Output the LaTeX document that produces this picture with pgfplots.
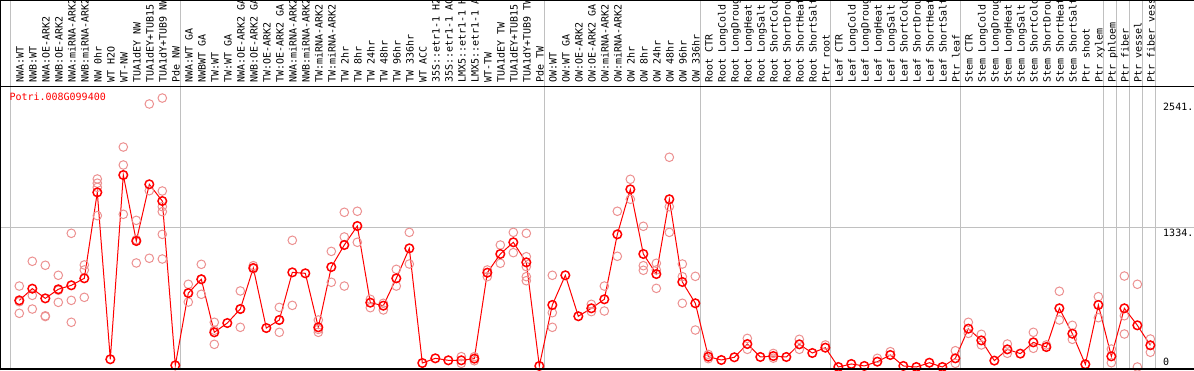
\documentclass[border=0pt]{standalone}
\usepackage{pgfplots}
\usepackage{pgfplotstable}
\pgfplotsset{compat=1.18}
\usepackage{fontspec}
\setmonofont{DejaVu Sans Mono}
\definecolor{pale}{RGB}{236,145,145}
\definecolor{sep}{RGB}{192,192,192}

\pgfplotstableread{
x y
0 638
1 750
2 657
3 744
4 782
5 849
6 1672
7 74
8 1838
9 1206
10 1749
11 1589
12 16
13 708
14 840
15 332
16 421
17 555
18 948
19 373
20 450
21 906
22 897
23 380
24 957
25 1168
26 1350
27 616
28 587
29 849
30 1136
31 38
32 83
33 64
34 64
35 80
36 903
37 1082
38 1194
39 1002
40 10
41 594
42 878
43 486
44 562
45 648
46 1270
47 1701
48 1082
49 890
50 1606
51 814
52 610
53 99
54 67
55 93
56 220
57 96
58 105
59 96
60 217
61 134
62 185
63 0
64 29
65 10
66 51
67 115
68 10
69 0
70 41
71 0
72 83
73 367
74 255
75 61
76 169
77 128
78 236
79 191
80 562
81 319
82 26
83 594
84 102
85 562
86 399
87 208
}\means

\pgfplotstableread{
x y
0 775
0 625
0 514
1 1012
1 686
1 555
2 974
2 483
2 490
3 878
3 619
3 735
4 1280
4 638
4 428
5 977
5 929
5 667
6 1800
6 1760
6 1720
6 1449
8 2106
8 1934
8 1462
9 1404
9 996
9 1218
10 2518
10 1688
10 1041
11 2575
11 1685
11 1535
11 1487
11 1270
11 1034
13 792
13 622
13 710
14 983
14 696
14 841
15 428
15 217
15 351
17 728
17 380
17 557
18 970
18 940
20 571
20 332
20 450
21 1213
21 590
23 450
23 332
23 360
24 1107
24 811
25 1481
25 1245
25 775
26 1491
26 1194
27 648
27 568
28 610
28 546
29 935
29 775
30 1289
30 986
34 99
34 35
35 99
35 60
36 929
36 865
37 1168
37 993
38 1289
38 1095
39 1280
39 1056
39 961
39 865
39 826
41 878
41 520
41 380
44 600
44 530
45 775
45 536
46 1491
46 1060
47 1797
47 1606
48 1347
48 970
48 926
49 993
49 929
49 753
50 2008
50 1535
50 1289
51 986
51 865
51 610
52 868
52 354
53 120
53 80
56 274
56 169
58 130
58 85
60 265
60 169
62 211
66 83
67 147
72 156
72 35
73 428
73 322
74 313
74 211
76 220
76 131
78 332
78 179
79 211
80 725
80 450
81 399
81 265
83 673
83 472
84 172
84 41
85 871
85 491
85 316
86 792
86 0
87 268
87 141
}\reps

\begin{document}
\begin{tikzpicture}
\begin{axis}[at={(0pt,0pt)}, anchor=south west,
  width=1194pt, height=370pt, scale only axis,
  xmin=-1.4846, xmax=90.3615, ymin=-28.722, ymax=3513.64,
  axis lines=none, clip=false]
  % group separators
  \pgfplotsinvokeforeach{-0.66,12.38,40.38,52.38,62.38,72.38,83.38,84.38,85.38,86.38,87.38}{
    \draw[sep, line width=1pt] (axis cs:#1,-28.722) -- (axis cs:#1,3513.64);
  }
  \draw[sep, line width=1pt] (axis cs:-1.4846,1334) -- (axis cs:90.3615,1334);
  \addplot[only marks, mark=o, mark size=4.3pt, draw=pale, mark options={line width=1pt, draw=pale}] table {\reps};
  \addplot[red, line width=1pt, mark=o, mark size=4.3pt, mark options={line width=1.5pt, red}] table {\means};
\end{axis}
% frame lines
\draw[black, line width=1pt] (0.5pt,0pt) -- (0.5pt,370pt);
\draw[black, line width=1pt] (0pt,369.5pt) -- (1194pt,369.5pt);
\draw[black, line width=1pt] (0pt,283.5pt) -- (1194pt,283.5pt);
\draw[black, line width=1.5pt] (0pt,1pt) -- (1194pt,1pt);
% sample labels
\begin{scope}
\clip (1pt,284pt) rectangle (1194pt,369pt);
\foreach \i/\t in {0/{NWA:WT},1/{NWB:WT},2/{NWA:OE-ARK2},3/{NWB:OE-ARK2},4/{NWA:miRNA-ARK2},5/{NWB:miRNA-ARK2},6/{NW 0hr},7/{WT H2O},8/{WT-NW},9/{TUA1dEY NW},10/{TUA1dEY+TUB15},11/{TUA1dY+TUB9 NW},12/{Pde NW},13/{NWA:WT GA},14/{NWBWT GA},15/{TW:WT},16/{TW:WT GA},17/{NWA:OE-ARK2 GA},18/{NWB:OE-ARK2 GA},19/{TW:OE-ARK2},20/{TW:OE-ARK2 GA},21/{NWA:miRNA-ARK2},22/{NWB:miRNA-ARK2},23/{TW:miRNA-ARK2},24/{TW:miRNA-ARK2},25/{TW 2hr},26/{TW 8hr},27/{TW 24hr},28/{TW 48hr},29/{TW 96hr},30/{TW 336hr},31/{WT ACC},32/{35S::etr1-1 H2},33/{35S::etr1-1 AC},34/{LMX5::etr1-1 H},35/{LMX5::etr1-1 A},36/{WT-TW},37/{TUA1dEY TW},38/{TUA1dEY+TUB15},39/{TUA1dY+TUB9 TW},40/{Pde TW},41/{OW:WT},42/{OW:WT GA},43/{OW:OE-ARK2},44/{OW:OE-ARK2 GA},45/{OW:miRNA-ARK2},46/{OW:miRNA-ARK2},47/{OW 2hr},48/{OW 8hr},49/{OW 24hr},50/{OW 48hr},51/{OW 96hr},52/{OW 336hr},53/{Root CTR},54/{Root LongCold},55/{Root LongDroug},56/{Root LongHeat},57/{Root LongSalt},58/{Root ShortCold},59/{Root ShortDrou},60/{Root ShortHeat},61/{Root ShortSalt},62/{Ptr root},63/{Leaf CTR},64/{Leaf LongCold},65/{Leaf LongDroug},66/{Leaf LongHeat},67/{Leaf LongSalt},68/{Leaf ShortCold},69/{Leaf ShortDrou},70/{Leaf ShortHeat},71/{Leaf ShortSalt},72/{Ptr leaf},73/{Stem CTR},74/{Stem LongCold},75/{Stem LongDroug},76/{Stem LongHeat},77/{Stem LongSalt},78/{Stem ShortCold},79/{Stem ShortDrou},80/{Stem ShortHeat},81/{Stem ShortSalt},82/{Ptr shoot},83/{Ptr xylem},84/{Ptr phloem},85/{Ptr fiber},86/{Ptr vessel},87/{Ptr fiber vess}}{
  \pgfmathsetmacro\xx{23.6+13*\i}
  \node[rotate=90, anchor=base west, inner sep=0pt, font=\ttfamily\fontsize{10pt}{12pt}\selectfont] at (\xx pt,287pt) {\t};
}
\end{scope}
\node[anchor=base west, inner sep=0pt, text=red, font=\ttfamily\fontsize{10pt}{12pt}\selectfont] at (9.3pt,269.6pt) {Potri.008G099400};
\node[anchor=base west, inner sep=0pt, font=\ttfamily\fontsize{10pt}{12pt}\selectfont] at (1163pt,259.5pt) {2541.};
\node[anchor=base west, inner sep=0pt, font=\ttfamily\fontsize{10pt}{12pt}\selectfont] at (1163pt,133.5pt) {1334.};
\node[anchor=base west, inner sep=0pt, font=\ttfamily\fontsize{10pt}{12pt}\selectfont] at (1163pt,5pt) {0};
\pgfresetboundingbox
\useasboundingbox (0pt,0pt) rectangle (1194pt,370pt);
\end{tikzpicture}
\end{document}
